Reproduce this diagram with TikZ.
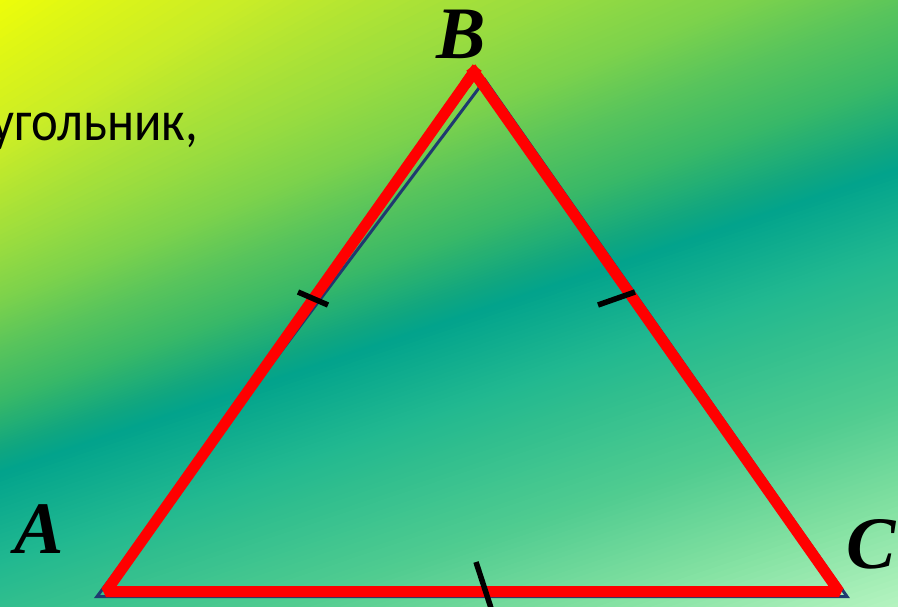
\documentclass[tikz,border=0pt]{standalone}
\usepackage{fontspec}
\setmainfont{Liberation Serif}
\newfontfamily\calib{Carlito}
\usetikzlibrary{calc}
\definecolor{g0}{HTML}{F2FF05}
\definecolor{g1}{HTML}{C8EC28}
\definecolor{g2}{HTML}{98DC40}
\definecolor{g3}{HTML}{7CD24C}
\definecolor{g4}{HTML}{58C45C}
\definecolor{g5}{HTML}{38B868}
\definecolor{g6}{HTML}{10A680}
\definecolor{g7}{HTML}{02A38C}
\definecolor{g8}{HTML}{20B890}
\definecolor{g9}{HTML}{30BE8E}
\definecolor{g10}{HTML}{50CC90}
\definecolor{g11}{HTML}{80E0A0}
\definecolor{g12}{HTML}{BCF6C4}
\definecolor{navy}{HTML}{1F3A70}
\tikzset{
  redl/.style={draw=red, line width=11pt},
  navyl/.style={draw=navy, line width=3pt, line join=miter},
  tickl/.style={draw=black, line width=5.5pt},
  lbl/.style={anchor=base, inner sep=0pt, font=\fontsize{74}{80}\selectfont\bfseries\itshape},
  txtl/.style={anchor=base east, inner sep=0pt, xscale=0.89, font=\calib\fontsize{57}{62}\selectfont}
}
\begin{document}
\begin{tikzpicture}[x=1pt,y=-1pt]
\useasboundingbox (0,0) rectangle (898,606);
\begin{scope}
\clip (0,0) rectangle (898,606);
\foreach \la/\ra/\lb/\rb/\ca/\cb in {
  -20/-650/150/-389/g0/g1,
  150/-389/250/-154/g1/g2,
  250/-154/300/-59/g2/g3,
  300/-59/350/9/g3/g4,
  350/9/400/80/g4/g5,
  400/80/450/145/g5/g6,
  450/145/473/170/g6/g7,
  473/170/560/250/g7/g8,
  560/250/606/300/g8/g9,
  606/300/700/400/g9/g10,
  700/400/800/500/g10/g11,
  800/500/920/620/g11/g12}{
  \foreach \i in {0,...,19}{
    \pgfmathsetmacro\ya{\la+\i/20*(\lb-\la)}
    \pgfmathsetmacro\yb{\la+(\i+1)/20*(\lb-\la)+1.2}
    \pgfmathsetmacro\za{\ra+\i/20*(\rb-\ra)}
    \pgfmathsetmacro\zb{\ra+(\i+1)/20*(\rb-\ra)+1.2}
    \pgfmathtruncatemacro\m{100*(\i+0.5)/20}
    \fill[color=\cb!\m!\ca] (0,\ya) -- (898,\za) -- (898,\zb) -- (0,\yb) -- cycle;
  }
}
\node[txtl] (txt) at (198,140) {угольник,};
\end{scope}

% navy underlying triangle
\coordinate (An) at (97,596.5);
\coordinate (Bn) at (485,80);
\coordinate (Cn) at (847,596.5);
\draw[navyl] (An) -- (Bn) -- (Cn) -- cycle;

% red triangle
\coordinate (A) at (106,591.5);
\coordinate (B) at (474,72);
\coordinate (C) at (839,591.5);
\draw[redl, line join=bevel] (A) -- (B) -- (C) -- cycle;
\draw[redl, line cap=rect] ($(B)!10pt!(A)$) -- (B);
\draw[redl, line cap=rect] ($(B)!10pt!(C)$) -- (B);

% tick marks
\coordinate (t1a) at (298,292);
\coordinate (t1b) at (328,305);
\coordinate (t2a) at (598,305);
\coordinate (t2b) at (635,292);
\coordinate (t3a) at (476,562);
\coordinate (t3b) at (491,608);
\draw[tickl] (t1a) -- (t1b);
\draw[tickl] (t2a) -- (t2b);
\draw[tickl] (t3a) -- (t3b);

% labels
\node[lbl] (la) at (39,553) {A};
\node[lbl] (lb) at (461,58) {B};
\node[lbl] (lc) at (871,568) {C};
\end{tikzpicture}
\end{document}
